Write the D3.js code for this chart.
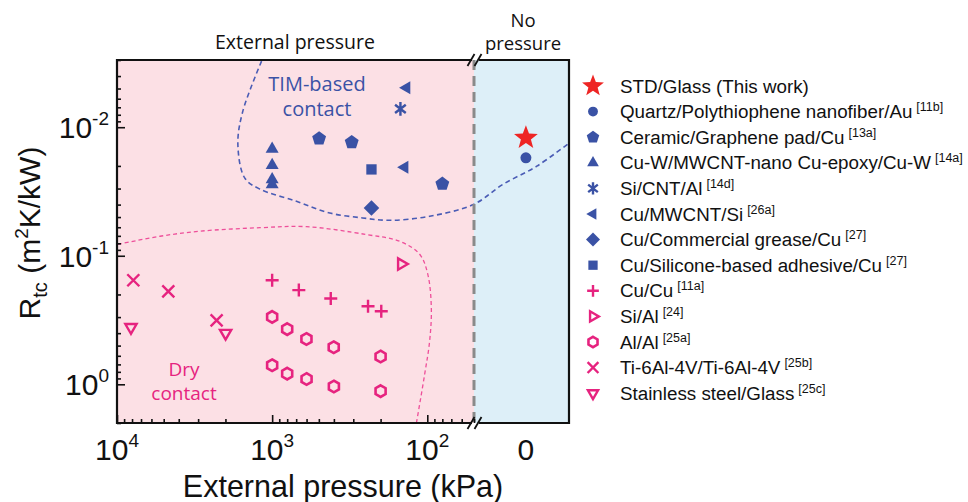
<!DOCTYPE html>
<html>
<head>
<meta charset="utf-8">
<script src="https://cdn.jsdelivr.net/npm/d3@7"></script>
<style>
  body { margin: 0; background: #fff; }
  svg { display: block; }
</style>
</head>
<body>
<script>
// values: [pressure kPa, Rtc m2K/kW], pressure 0 = "no pressure" panel
const stdGlass = [[0, 0.0121]]
const quartz = [[0, 0.0173]]
const ceramic = [[498, 0.01225], [307, 0.0131], [80, 0.0276]]
const cuW = [[1000, 0.0148], [1000, 0.0198], [1000, 0.0255], [1000, 0.0279]]
const siCnt = [[149, 0.0072]]
const cuMwcnt = [[136, 0.00494], [140, 0.0205]]
const grease = [[229, 0.0425]]
const silicone = [[229, 0.0213]]
const cuCu = [[1000, 0.155], [673, 0.185], [419, 0.215], [241, 0.247], [198, 0.27]]
const siAl = [[147, 0.116]]
const alAl = [[1000, 0.299], [800, 0.372], [601, 0.444], [401, 0.515], [200, 0.608],
  [1000, 0.711], [800, 0.826], [600, 0.91], [400, 1.04], [200, 1.13]]
const ti = [[7850, 0.155], [4670, 0.189], [2280, 0.318]]
const steel = [[8130, 0.36], [1995, 0.40]]

// guide curves
const timBoundary = [[1170, 0.00306], [1545, 0.0075], [1663, 0.01355], [1500, 0.0249], [1200, 0.0303],
  [697, 0.0377], [425, 0.0465], [261, 0.0508], [175, 0.053], [96.5, 0.0493], [50, 0.0397]]
// continuation inside the no-pressure panel (panel position -1..0.83, Rtc)
const timBoundaryNoP = [[-0.44, 0.0278], [0.21, 0.0201], [0.83, 0.0133]]
const dryBoundary = [[9860, 0.0815], [5280, 0.0705], [2925, 0.0644], [1200, 0.0605], [601, 0.0594],
  [247, 0.0684], [151, 0.0771], [112, 0.0973], [99.3, 0.139], [94.2, 0.255], [96.6, 0.462],
  [104, 0.836], [117.5, 2.0]]

const xMajor = [1e4, 1e3, 1e2]
const yMajor = [1e-2, 1e-1, 1e0]

const BLUE = '#3a52a5'
const PINK = '#e6237f'
const RED = '#ee2524'

const series = [
  {name: 'STD/Glass (This work)', ref: '', shape: 'star', color: RED, data: stdGlass},
  {name: 'Quartz/Polythiophene nanofiber/Au', ref: '[11b]', shape: 'circle', color: BLUE, data: quartz},
  {name: 'Ceramic/Graphene pad/Cu', ref: '[13a]', shape: 'pentagon', color: BLUE, data: ceramic},
  {name: 'Cu-W/MWCNT-nano Cu-epoxy/Cu-W', ref: '[14a]', shape: 'triUp', color: BLUE, data: cuW},
  {name: 'Si/CNT/Al', ref: '[14d]', shape: 'asterisk', color: BLUE, data: siCnt},
  {name: 'Cu/MWCNT/Si', ref: '[26a]', shape: 'triLeft', color: BLUE, data: cuMwcnt},
  {name: 'Cu/Commercial grease/Cu', ref: '[27]', shape: 'diamond', color: BLUE, data: grease},
  {name: 'Cu/Silicone-based adhesive/Cu', ref: '[27]', shape: 'square', color: BLUE, data: silicone},
  {name: 'Cu/Cu', ref: '[11a]', shape: 'plus', color: PINK, data: cuCu},
  {name: 'Si/Al', ref: '[24]', shape: 'triRight', color: PINK, data: siAl},
  {name: 'Al/Al', ref: '[25a]', shape: 'hexagon', color: PINK, data: alAl},
  {name: 'Ti-6Al-4V/Ti-6Al-4V', ref: '[25b]', shape: 'cross', color: PINK, data: ti},
  {name: 'Stainless steel/Glass', ref: '[25c]', shape: 'triDown', color: PINK, data: steel}
]

const W = 968, H = 502
const pL = 117, pR = 569, pT = 60, pB = 423, sepX = 474

const svg = d3.select('body').append('svg').attr('width', W).attr('height', H)

const x = d3.scaleLog().domain([1e4, 50]).range([pL, sepX])
const xNP = d3.scaleLinear().domain([-1, 0.83]).range([sepX, pR])
const y = d3.scaleLog().domain([0.003, 2]).range([pT, pB])
const px = p => p === 0 ? xNP(0) : x(p)

// backgrounds
svg.append('rect').attr('x', pL).attr('y', pT).attr('width', sepX - pL).attr('height', pB - pT).attr('fill', '#fce0e5')
svg.append('rect').attr('x', sepX).attr('y', pT).attr('width', pR - sepX).attr('height', pB - pT).attr('fill', '#ddeff8')

svg.append('clipPath').attr('id', 'plotclip').append('rect')
  .attr('x', pL).attr('y', pT).attr('width', pR - pL).attr('height', pB - pT)

// dashed guide curves
const line = d3.line().curve(d3.curveCatmullRom.alpha(0.5))
const timPts = timBoundary.map(d => [x(d[0]), y(d[1])]).concat(timBoundaryNoP.map(d => [xNP(d[0]), y(d[1])]))
const dryPts = dryBoundary.map(d => [x(d[0]), y(d[1])])
const guides = svg.append('g').attr('clip-path', 'url(#plotclip)')
guides.append('path').attr('d', line(timPts)).attr('fill', 'none')
  .attr('stroke', '#4a5cb5').attr('stroke-width', 1.6).attr('stroke-dasharray', '5,3.5')
guides.append('path').attr('d', line(dryPts)).attr('fill', 'none')
  .attr('stroke', '#ee4f9a').attr('stroke-width', 1.3).attr('stroke-dasharray', '4,3')

// separator
svg.append('line').attr('x1', sepX).attr('x2', sepX).attr('y1', pT).attr('y2', pB)
  .attr('stroke', '#8a8a8a').attr('stroke-width', 3).attr('stroke-dasharray', '10,6')

// marker shapes
function poly(n, r, rot) {
  const pts = d3.range(n).map(i => {
    const a = rot + i * 2 * Math.PI / n
    return [r * Math.cos(a), r * Math.sin(a)]
  })
  return 'M' + pts.join('L') + 'Z'
}
function starPath(r) {
  const pts = d3.range(10).map(i => {
    const a = -Math.PI / 2 + i * Math.PI / 5
    const rr = i % 2 ? r * 0.42 : r
    return [rr * Math.cos(a), rr * Math.sin(a)]
  })
  return 'M' + pts.join('L') + 'Z'
}
const deg = Math.PI / 180
function marker(g, shape, color, scale) {
  const k = scale || 1
  let m = {d: '', fill: color, stroke: 'none', sw: 0}
  switch (shape) {
    case 'star': m = {d: starPath(12.5 * k), fill: color, stroke: 'none'}; break
    case 'circle': m = {d: d3.symbol(d3.symbolCircle, Math.PI * 30 * k * k)(), fill: color, stroke: 'none'}; break
    case 'pentagon': m = {d: poly(5, 7.3 * k, -90 * deg), fill: color, stroke: 'none'}; break
    case 'triUp': m = {d: poly(3, 7.5 * k, -90 * deg), fill: color, stroke: 'none'}; break
    case 'triLeft': m = {d: poly(3, 7.5 * k, 180 * deg), fill: color, stroke: 'none'}; break
    case 'diamond': m = {d: poly(4, 7.8 * k, -90 * deg), fill: color, stroke: 'none'}; break
    case 'square': m = {d: poly(4, 7.3 * k, 45 * deg), fill: color, stroke: 'none'}; break
    case 'asterisk': {
      const r = 6.8 * k
      const a = 38 * deg
      const c = r * Math.cos(a), s = r * Math.sin(a)
      m = {d: `M0,${-r}V${r}M${-c},${-s}L${c},${s}M${-c},${s}L${c},${-s}`, fill: 'none', stroke: color, sw: 2.4}
      break
    }
    case 'plus': {
      const r = 6.5 * k
      m = {d: `M${-r},0H${r}M0,${-r}V${r}`, fill: 'none', stroke: color, sw: 2.4}
      break
    }
    case 'cross': {
      const r = 6 * k
      m = {d: `M${-r},${-r}L${r},${r}M${-r},${r}L${r},${-r}`, fill: 'none', stroke: color, sw: 2.4}
      break
    }
    case 'triRight': m = {d: poly(3, 6.5 * k, 0), fill: 'none', stroke: color, sw: 2.4}; break
    case 'triDown': m = {d: poly(3, 6.5 * k, 90 * deg), fill: 'none', stroke: color, sw: 2.4}; break
    case 'hexagon': m = {d: poly(6, 5.8 * k, -90 * deg), fill: 'none', stroke: color, sw: 2.6}; break
  }
  g.append('path').attr('d', m.d).attr('fill', m.fill).attr('stroke', m.stroke)
    .attr('stroke-width', m.sw || 0)
}

// points
series.slice().reverse().forEach(s => {
  svg.append('g').selectAll('g')
    .data(s.data)
    .enter()
    .append('g')
    .attr('transform', d => `translate(${px(d[0])},${y(d[1])})`)
    .each(function () { marker(d3.select(this), s.shape, s.color) })
})

// axes: ticks inward, labels drawn separately
const xTicks = x.ticks()
const yTicks = y.ticks()
const isMajor = v => Math.abs(Math.log10(v) - Math.round(Math.log10(v))) < 1e-9

const axX = svg.append('g').attr('transform', `translate(0,${pB})`)
axX.append('g').call(d3.axisBottom(x).tickValues(xTicks.filter(v => !isMajor(v))).tickSize(-4).tickFormat(''))
axX.append('g').call(d3.axisBottom(x).tickValues(xMajor).tickSize(-8).tickFormat(''))
const axY = svg.append('g').attr('transform', `translate(${pL},0)`)
axY.append('g').call(d3.axisLeft(y).tickValues(yTicks.filter(v => !isMajor(v))).tickSize(-4).tickFormat(''))
axY.append('g').call(d3.axisLeft(y).tickValues(yMajor).tickSize(-8).tickFormat(''))
svg.selectAll('.domain').remove()
svg.selectAll('.tick line').attr('stroke', '#111').attr('stroke-width', 1.6)

// frame with axis break
const frame = svg.append('g').attr('stroke', '#111').attr('stroke-width', 2.2).attr('fill', 'none')
frame.append('path').attr('d', `M${sepX - 2},${pT}H${pL}V${pB}H${sepX - 2}`)
frame.append('path').attr('d', `M${sepX + 5},${pT}H${pR}V${pB}H${sepX + 5}`)
;[pT, pB].forEach(yy => {
  ;[sepX - 3, sepX + 4].forEach(xx => {
    frame.append('line').attr('x1', xx - 3.5).attr('y1', yy + 6).attr('x2', xx + 3.5).attr('y2', yy - 6)
      .attr('stroke-width', 1.8)
  })
})

// tick labels
const tickFont = 'Liberation Sans, Arial, sans-serif'
const xl = svg.append('g').attr('font-family', tickFont).attr('fill', '#111')
xMajor.forEach(v => {
  const t = xl.append('text').attr('x', x(v)).attr('y', 460).attr('text-anchor', 'middle').attr('font-size', 30)
  t.append('tspan').text('10')
  t.append('tspan').attr('font-size', 19).attr('dy', -13).text(Math.round(Math.log10(v)))
})
xl.append('text').attr('x', xNP(0)).attr('y', 460).attr('text-anchor', 'middle').attr('font-size', 30).text('0')

const yl = svg.append('g').attr('font-family', tickFont).attr('fill', '#111')
yMajor.forEach(v => {
  const t = yl.append('text').attr('x', 109).attr('y', y(v) + 11).attr('text-anchor', 'end').attr('font-size', 30)
  t.append('tspan').text('10')
  t.append('tspan').attr('font-size', 19).attr('dy', -13).text(Math.round(Math.log10(v)))
})

// axis titles
svg.append('text').attr('x', 343).attr('y', 497).attr('text-anchor', 'middle')
  .attr('font-family', tickFont).attr('font-size', 30.5).attr('fill', '#111').text('External pressure (kPa)')

const yt = svg.append('text').attr('transform', 'translate(40,233) rotate(-90)').attr('text-anchor', 'middle')
  .attr('font-family', tickFont).attr('font-size', 30).attr('fill', '#111')
yt.append('tspan').text('R')
yt.append('tspan').attr('font-size', 20).attr('dy', 7).text('tc')
yt.append('tspan').attr('dy', -7).text(' (m')
yt.append('tspan').attr('font-size', 19).attr('dy', -12).text('2')
yt.append('tspan').attr('dy', 12).text('K/kW)')

// panel headings and region notes
const noteFont = 'Open Sans, Noto Sans, sans-serif'
function note(cx, y0, lines, gap, size, color) {
  lines.forEach((s, i) => {
    svg.append('text').attr('x', cx).attr('y', y0 + i * gap).attr('text-anchor', 'middle')
      .attr('font-family', noteFont).attr('font-size', size).attr('fill', color).text(s)
  })
}
note(295, 49, ['External pressure'], 0, 19.5, '#111')
note(523, 26.5, ['No', 'pressure'], 23, 18.5, '#111')
note(317, 91, ['TIM-based', 'contact'], 25, 20, BLUE)
note(184, 376, ['Dry', 'contact'], 23.5, 19, PINK)

// legend
const legend = svg.append('g').attr('font-family', tickFont).attr('fill', '#111')
series.forEach((s, i) => {
  const ly = 86 + i * 25.6
  const g = legend.append('g').attr('transform', `translate(593,${ly})`)
  marker(g, s.shape, s.color, s.shape === 'star' ? 0.92 : 0.9)
  const t = g.append('text').attr('x', 27).attr('y', 6.5).attr('font-size', 18.8)
  t.append('tspan').text(s.name)
  if (s.ref) t.append('tspan').attr('dx', 4).attr('dy', -7).attr('font-size', 12.5).text(s.ref)
})
</script>
</body>
</html>
